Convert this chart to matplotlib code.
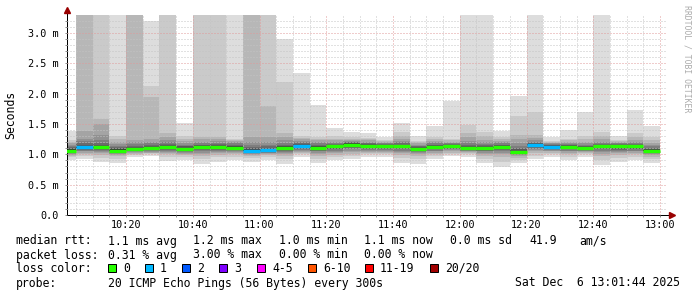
import matplotlib
matplotlib.use('Agg')
import matplotlib.pyplot as plt
from matplotlib.patches import Rectangle
import numpy as np

plt.rcParams['font.family'] = ['DejaVu Sans Mono']

# start of each 5 minute step, minutes after 10:00
bar_start = [0, 5, 10, 15, 20, 25, 30, 35, 40, 45, 50, 55,
             60, 65, 70, 75, 80, 85, 90, 95, 100, 105, 110, 115,
             120, 125, 130, 135, 140, 145, 150, 155, 160, 165, 170, 175]

# median rtt per step (ms)
median = [1.06, 1.115, 1.115, 1.06, 1.09, 1.10, 1.115, 1.09, 1.12, 1.12, 1.11, 1.06,
          1.07, 1.11, 1.14, 1.11, 1.13, 1.16, 1.14, 1.13, 1.13, 1.09, 1.12, 1.13,
          1.10, 1.10, 1.12, 1.04, 1.15, 1.12, 1.12, 1.10, 1.13, 1.13, 1.13, 1.06]

# lost pings per step (of 20)
loss = [0, 1, 0, 0, 0, 0, 0, 0, 0, 0, 0, 1,
        1, 0, 1, 0, 0, 0, 0, 0, 0, 0, 0, 0,
        0, 0, 0, 0, 1, 1, 0, 0, 0, 0, 0, 0]

# the 20 sorted ping times per step (ms)
pings = [
    [0.91, 0.95, 0.98, 0.99, 1.00, 1.02, 1.03, 1.04, 1.05, 1.07, 1.08, 1.09, 1.10, 1.12, 1.14, 1.16, 1.18, 1.20, 1.24, 1.39],
    [0.93, 0.98, 1.01, 1.03, 1.05, 1.06, 1.07, 1.08, 1.10, 1.11, 1.12, 1.13, 1.15, 1.18, 1.22, 1.26, 1.38, 3.50, 3.60, 3.70],
    [0.87, 0.94, 0.99, 1.02, 1.04, 1.06, 1.07, 1.08, 1.10, 1.11, 1.12, 1.14, 1.16, 1.19, 1.24, 1.32, 1.50, 1.59, 3.50, 3.60],
    [0.86, 0.93, 0.97, 0.99, 1.00, 1.02, 1.03, 1.04, 1.05, 1.07, 1.08, 1.09, 1.10, 1.12, 1.14, 1.17, 1.21, 1.25, 1.31, 3.50],
    [0.95, 0.99, 1.01, 1.03, 1.04, 1.05, 1.06, 1.07, 1.08, 1.09, 1.10, 1.11, 1.12, 1.14, 1.17, 1.20, 1.24, 3.50, 3.60, 3.70],
    [0.97, 1.00, 1.02, 1.03, 1.04, 1.05, 1.07, 1.08, 1.09, 1.10, 1.11, 1.12, 1.13, 1.15, 1.18, 1.21, 1.25, 1.95, 2.13, 3.19],
    [0.89, 0.96, 1.00, 1.02, 1.04, 1.06, 1.07, 1.08, 1.10, 1.11, 1.12, 1.13, 1.15, 1.17, 1.20, 1.24, 1.29, 1.36, 3.50, 3.60],
    [0.91, 0.96, 0.99, 1.01, 1.03, 1.04, 1.06, 1.07, 1.08, 1.09, 1.10, 1.11, 1.13, 1.14, 1.16, 1.19, 1.22, 1.26, 1.30, 1.51],
    [0.84, 0.92, 0.98, 1.01, 1.03, 1.05, 1.07, 1.08, 1.09, 1.11, 1.13, 1.14, 1.15, 1.16, 1.18, 1.21, 1.25, 1.29, 3.50, 3.60],
    [0.88, 0.95, 0.99, 1.02, 1.04, 1.06, 1.07, 1.09, 1.10, 1.11, 1.13, 1.14, 1.15, 1.17, 1.19, 1.22, 1.26, 1.29, 3.50, 3.60],
    [0.91, 0.96, 1.00, 1.02, 1.04, 1.05, 1.07, 1.08, 1.09, 1.10, 1.12, 1.13, 1.14, 1.16, 1.18, 1.20, 1.22, 1.24, 1.26, 3.50],
    [0.88, 0.94, 0.98, 0.99, 1.01, 1.02, 1.03, 1.04, 1.05, 1.06, 1.07, 1.08, 1.10, 1.12, 1.15, 1.20, 1.28, 3.50, 3.60, 3.70],
    [0.91, 0.96, 0.99, 1.00, 1.02, 1.03, 1.04, 1.05, 1.06, 1.07, 1.08, 1.09, 1.11, 1.13, 1.16, 1.21, 1.28, 1.79, 3.50, 3.60],
    [0.84, 0.92, 0.97, 1.00, 1.02, 1.04, 1.06, 1.08, 1.09, 1.10, 1.12, 1.13, 1.14, 1.16, 1.19, 1.23, 1.29, 1.35, 2.20, 2.90],
    [0.96, 1.00, 1.02, 1.04, 1.06, 1.07, 1.09, 1.10, 1.12, 1.13, 1.15, 1.16, 1.17, 1.18, 1.20, 1.22, 1.25, 1.27, 1.30, 2.34],
    [0.86, 0.93, 0.98, 1.01, 1.03, 1.05, 1.06, 1.08, 1.09, 1.10, 1.12, 1.13, 1.14, 1.16, 1.18, 1.20, 1.23, 1.25, 1.28, 1.82],
    [0.90, 0.95, 0.99, 1.02, 1.04, 1.06, 1.08, 1.09, 1.11, 1.12, 1.14, 1.15, 1.16, 1.17, 1.19, 1.21, 1.23, 1.26, 1.30, 1.43],
    [0.93, 0.98, 1.01, 1.04, 1.06, 1.08, 1.10, 1.12, 1.14, 1.15, 1.17, 1.18, 1.19, 1.20, 1.21, 1.22, 1.24, 1.26, 1.28, 1.37],
    [0.96, 1.00, 1.02, 1.04, 1.06, 1.07, 1.09, 1.10, 1.12, 1.13, 1.15, 1.16, 1.17, 1.18, 1.19, 1.21, 1.23, 1.25, 1.27, 1.35],
    [0.96, 1.00, 1.02, 1.04, 1.06, 1.07, 1.08, 1.10, 1.11, 1.12, 1.14, 1.15, 1.16, 1.17, 1.18, 1.19, 1.20, 1.22, 1.23, 1.29],
    [0.86, 0.94, 0.99, 1.02, 1.04, 1.06, 1.08, 1.10, 1.11, 1.12, 1.14, 1.15, 1.16, 1.18, 1.20, 1.22, 1.25, 1.30, 1.37, 1.51],
    [0.84, 0.92, 0.97, 1.00, 1.02, 1.04, 1.05, 1.06, 1.07, 1.08, 1.10, 1.11, 1.12, 1.13, 1.14, 1.16, 1.18, 1.20, 1.22, 1.30],
    [0.92, 0.97, 1.00, 1.03, 1.05, 1.06, 1.08, 1.09, 1.10, 1.11, 1.13, 1.14, 1.15, 1.16, 1.18, 1.20, 1.22, 1.25, 1.28, 1.47],
    [0.97, 1.00, 1.03, 1.05, 1.07, 1.08, 1.09, 1.10, 1.11, 1.12, 1.14, 1.15, 1.16, 1.17, 1.18, 1.19, 1.21, 1.23, 1.26, 1.88],
    [0.96, 1.00, 1.02, 1.04, 1.05, 1.06, 1.07, 1.08, 1.09, 1.10, 1.11, 1.12, 1.13, 1.15, 1.18, 1.22, 1.28, 1.36, 1.48, 3.50],
    [0.86, 0.93, 0.98, 1.01, 1.03, 1.05, 1.06, 1.07, 1.08, 1.09, 1.11, 1.12, 1.13, 1.15, 1.17, 1.20, 1.24, 1.30, 1.37, 3.50],
    [0.79, 0.88, 0.95, 1.00, 1.03, 1.05, 1.07, 1.09, 1.10, 1.11, 1.13, 1.14, 1.15, 1.16, 1.18, 1.20, 1.22, 1.25, 1.28, 1.39],
    [0.85, 0.90, 0.94, 0.97, 0.99, 1.00, 1.01, 1.02, 1.03, 1.04, 1.05, 1.06, 1.08, 1.10, 1.13, 1.18, 1.25, 1.32, 1.63, 1.96],
    [0.93, 0.98, 1.02, 1.05, 1.07, 1.09, 1.10, 1.12, 1.13, 1.14, 1.16, 1.17, 1.18, 1.19, 1.21, 1.23, 1.27, 1.32, 1.69, 3.50],
    [0.96, 1.00, 1.03, 1.05, 1.06, 1.07, 1.08, 1.09, 1.10, 1.11, 1.13, 1.14, 1.15, 1.16, 1.17, 1.18, 1.19, 1.21, 1.22, 1.29],
    [0.91, 0.96, 1.00, 1.03, 1.05, 1.06, 1.08, 1.09, 1.10, 1.11, 1.13, 1.14, 1.15, 1.16, 1.17, 1.19, 1.21, 1.23, 1.26, 1.40],
    [0.96, 1.00, 1.02, 1.04, 1.05, 1.06, 1.07, 1.08, 1.09, 1.10, 1.11, 1.12, 1.13, 1.14, 1.16, 1.18, 1.21, 1.25, 1.30, 1.70],
    [0.82, 0.90, 0.97, 1.01, 1.04, 1.06, 1.08, 1.10, 1.11, 1.12, 1.14, 1.15, 1.16, 1.17, 1.19, 1.21, 1.25, 1.30, 1.37, 3.50],
    [0.87, 0.94, 0.99, 1.02, 1.04, 1.06, 1.07, 1.09, 1.11, 1.12, 1.14, 1.15, 1.16, 1.17, 1.18, 1.19, 1.20, 1.22, 1.24, 1.30],
    [0.91, 0.96, 1.00, 1.03, 1.05, 1.06, 1.08, 1.09, 1.11, 1.12, 1.14, 1.15, 1.16, 1.17, 1.19, 1.21, 1.24, 1.29, 1.35, 1.73],
    [0.85, 0.92, 0.96, 0.99, 1.01, 1.02, 1.03, 1.04, 1.05, 1.06, 1.07, 1.08, 1.09, 1.11, 1.13, 1.16, 1.19, 1.23, 1.28, 1.47],
]

xtick_pos = [20, 40, 60, 80, 100, 120, 140, 160, 180]
xtick_labels = ['10:20', '10:40', '11:00', '11:20', '11:40', '12:00', '12:20', '12:40', '13:00']
ytick_pos = [0.0, 0.5, 1.0, 1.5, 2.0, 2.5, 3.0]
ytick_labels = ['0.0', '0.5 m', '1.0 m', '1.5 m', '2.0 m', '2.5 m', '3.0 m']

loss_labels = ['0', '1', '2', '3', '4-5', '6-10', '11-19', '20/20']
loss_colors = ['#26ff00', '#00b8ff', '#0059ff', '#7e00ff', '#ff00ff', '#ff5500', '#ff0000', '#a10000']

W, H = 697, 297
fig = plt.figure(figsize=(W / 100, H / 100), dpi=100)
ax = fig.add_axes([66.7 / W, (H - 215) / H, 600 / W, 200 / H])

starts = np.array(bar_start, dtype=float)
P = np.sort(np.array(pings), axis=1)
n = P.shape[1]
half = n // 2

# smoke: band i spans ping i .. ping n-1-i, darker towards the middle
for i in range(half):
    g = int(190 / half * (half - (i + 1))) + 50
    lo = P[:, i]
    hi = P[:, n - 1 - i]
    ax.bar(starts, hi - lo, bottom=lo, width=5, align='edge',
           color='#%02x%02x%02x' % (g, g, g), linewidth=0, zorder=1)

def loss_color(k):
    if k <= 3:
        return loss_colors[k]
    if k <= 5:
        return loss_colors[4]
    if k <= 10:
        return loss_colors[5]
    if k < 20:
        return loss_colors[6]
    return loss_colors[7]

ax.hlines(median, starts, starts + 5, colors=[loss_color(k) for k in loss],
          linewidth=2.4, capstyle='butt', zorder=3)

ax.set_xlim(2.2, 182.0)
ax.set_ylim(0, 3.297)
ax.set_xticks(xtick_pos)
ax.set_xticklabels(xtick_labels)
ax.set_xticks(np.arange(5, 182, 5), minor=True)
ax.set_yticks(ytick_pos)
ax.set_yticklabels(ytick_labels)
ax.set_yticks(np.arange(0.1, 3.3, 0.1), minor=True)

ax.set_axisbelow(False)
ax.grid(which='minor', color='#c4c4c4', linestyle=(0, (1, 2)), linewidth=0.72)
ax.grid(which='major', color='#e09a9a', linestyle=(0, (1, 2)), linewidth=0.72)

ax.tick_params(which='both', length=1.5, width=0.72, color='#909090',
               labelsize=7.3, labelcolor='#000000')
ax.tick_params(axis='y', pad=4.0)
ax.tick_params(axis='x', pad=2.2)

for s in ('top', 'right'):
    ax.spines[s].set_visible(False)
for s in ('left', 'bottom'):
    ax.spines[s].set_linewidth(0.72)
    ax.spines[s].set_color('black')

# axis arrows
ax.plot([1.0, 1.006], [0, 0], color='black', lw=0.72, transform=ax.transAxes, clip_on=False)
ax.plot([0, 0], [1.0, 1.02], color='black', lw=0.72, transform=ax.transAxes, clip_on=False)
ax.plot([1.008], [0], marker='>', ms=4, color='#990000', transform=ax.transAxes, clip_on=False)
ax.plot([0], [1.025], marker='^', ms=4, color='#990000', transform=ax.transAxes, clip_on=False)

fig.text(11 / W, 1 - 115 / H, 'Seconds', rotation=90, ha='center', va='center', fontsize=8.3)
fig.text(687 / W, 1 - 5 / H, 'RRDTOOL / TOBI OETIKER', rotation=-90, ha='center', va='top',
         fontsize=5.9, color='#ababab')

fs = 8.3
def row(y, items):
    for x, s in items:
        fig.text(x / W, 1 - y / H, s, ha='left', va='center', fontsize=fs)

row(241, [(16, 'median rtt:'), (108, '1.1 ms avg'), (193, '1.2 ms max'), (279, '1.0 ms min'),
          (364, '1.1 ms now'), (450, '0.0 ms sd'), (529, '41.9'), (579, 'am/s')])
row(255, [(16, 'packet loss:'), (108, '0.31 % avg'), (193, '3.00 % max'),
          (279, '0.00 % min'), (364, '0.00 % now')])
row(268, [(16, 'loss color:')])
box_x = [108, 145, 182, 219, 257, 308, 365, 430]
for bx, lab, col in zip(box_x, loss_labels, loss_colors):
    fig.patches.append(Rectangle((bx / W, 1 - 272 / H), 8 / W, 8 / H, transform=fig.transFigure,
                                 facecolor=col, edgecolor='black', linewidth=0.72))
    fig.text((bx + 15) / W, 1 - 268 / H, lab, ha='left', va='center', fontsize=fs)
row(283, [(16, 'probe:'), (108, '20 ICMP Echo Pings (56 Bytes) every 300s')])
fig.text(680 / W, 1 - 283 / H, 'Sat Dec  6 13:01:44 2025', ha='right', va='center', fontsize=fs)

fig.savefig('out.png', dpi=100, facecolor='white')
